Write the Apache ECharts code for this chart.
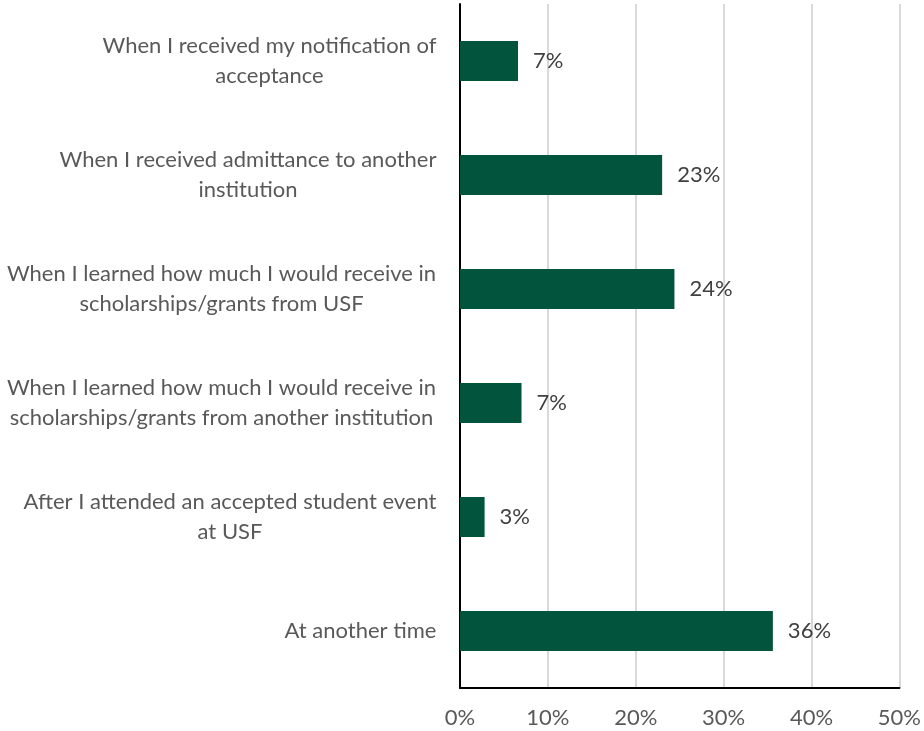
<!DOCTYPE html>
<html lang="en">
<head>
  <meta charset="UTF-8">
  <title>Timing of decision</title>
  <script src="https://cdn.jsdelivr.net/npm/echarts@6/dist/echarts.min.js"></script>
  <style>
    body { margin: 0; padding: 0; background: #fff; }
    #chart { width: 924px; height: 731px; }
  </style>
</head>
<body>
  <div id="chart"></div>
  <script>
    // categories, top to bottom
    const categories = [
      'When I received my notification of\nacceptance',
      'When I received admittance to another\ninstitution',
      'When I learned how much I would receive in\nscholarships/grants from USF',
      'When I learned how much I would receive in\nscholarships/grants from another institution',
      'After I attended an accepted student event\nat USF',
      'At another time'
    ];
    // percent of respondents
    const shares = [6.6, 23.0, 24.4, 7.0, 2.8, 35.6];
    const tickValues = [0, 10, 20, 30, 40, 50];

    const FONT = 'Lato';
    const FS = 22;

    // measure widest line of each label so lines can be centred under it
    const ctx = document.createElement('canvas').getContext('2d');
    ctx.font = FS + 'px ' + FONT;
    const rich = {};
    categories.forEach(function (c, i) {
      const w = Math.max.apply(null, c.split('\n').map(function (l) { return ctx.measureText(l).width; }));
      rich['c' + i] = { width: Math.ceil(w) + 1, align: 'center', fontSize: FS, fontFamily: FONT, color: '#595959', lineHeight: 30 };
    });

    const chart = echarts.init(document.getElementById('chart'));
    chart.setOption({
      animation: false,
      grid: { left: 460, right: 22, top: 4, bottom: 43, containLabel: false },
      xAxis: {
        type: 'value',
        min: 0,
        max: 50,
        interval: 10,
        axisLine: { show: true, lineStyle: { color: '#000', width: 2 } },
        axisTick: { show: false },
        splitLine: { lineStyle: { color: '#d9d9d9', width: 2 } },
        axisLabel: {
          margin: 19,
          fontSize: FS,
          fontFamily: FONT,
          color: '#595959',
          formatter: function (v) { return tickValues.indexOf(v) >= 0 ? v + '%' : ''; }
        }
      },
      yAxis: {
        type: 'category',
        inverse: true,
        data: categories,
        axisLine: { show: true, lineStyle: { color: '#000', width: 2 } },
        axisTick: { show: false },
        axisLabel: {
          margin: 23,
          formatter: function (v) {
            const i = categories.indexOf(v);
            return v.split('\n').map(function (l) { return '{c' + i + '|' + l + '}'; }).join('\n');
          },
          rich: rich
        }
      },
      series: [{
        type: 'bar',
        data: shares,
        barWidth: '35%',
        itemStyle: { color: '#03543c' },
        label: {
          show: true,
          position: 'right',
          distance: 15,
          fontSize: FS,
          fontFamily: FONT,
          color: '#404040',
          formatter: function (p) { return Math.round(p.value) + '%'; }
        }
      }]
    });
  </script>
</body>
</html>
